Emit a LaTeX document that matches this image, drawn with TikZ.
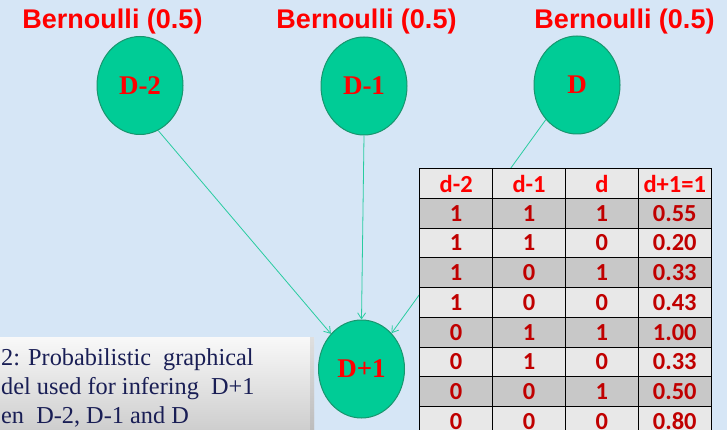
\documentclass[tikz,border=0pt]{standalone}
\usepackage{fontspec}
\setmainfont{Liberation Serif}
\newfontfamily\arialf{Liberation Sans}
\newfontfamily\calf{Carlito}
\usetikzlibrary{shapes.geometric,arrows.meta}
\definecolor{bgblue}{RGB}{214,230,246}
\definecolor{nodegreen}{RGB}{0,204,150}
\definecolor{nodeedge}{RGB}{24,150,110}
\definecolor{arrowteal}{RGB}{40,204,160}
\definecolor{hdrred}{RGB}{255,0,0}
\definecolor{cellred}{RGB}{192,0,0}
\definecolor{rowdark}{RGB}{200,200,200}
\definecolor{rowlight}{RGB}{232,232,232}
\definecolor{capnavy}{RGB}{25,30,85}
\begin{document}
\begin{tikzpicture}[x=1pt,y=-1pt,
  var/.style={ellipse, draw=nodeedge, line width=1pt, fill=nodegreen,
    minimum width=86pt, minimum height=98pt, inner sep=0pt, text=red,
    font=\bfseries\fontsize{27}{27}\selectfont},
  prior/.style={text=red, anchor=base, inner sep=0pt,
    font=\arialf\bfseries\fontsize{27}{27}\selectfont},
  link/.style={draw=arrowteal, line width=0.8pt,
    -{Straight Barb[length=6pt,width=8pt]}},
  cell/.style={draw=black, line width=0.9pt, minimum width=72.85pt,
    minimum height=29.7pt, inner sep=0pt, anchor=north west,
    font=\calf\bfseries\fontsize{24.5}{24.5}\selectfont},
  hcell/.style={cell, fill=rowlight, text=hdrred},
  dcell/.style={cell, fill=rowdark, text=cellred},
  lcell/.style={cell, fill=rowlight, text=cellred},
  captext/.style={anchor=base west, inner sep=0pt, text=capnavy,
    font=\fontsize{24.3}{24.3}\selectfont}
]
\useasboundingbox (0,0) rectangle (727,430);
\clip (0,0) rectangle (727,430);
\fill[bgblue] (0,0) rectangle (727,430);

% priors
\node[prior] (p2) at (112.5,29) {Bernoulli (0.5)};
\node[prior] (p1) at (366.5,29) {Bernoulli (0.5)};
\node[prior] (p0) at (624.5,29) {Bernoulli (0.5)};

% variables
\node[var] (d2) at (140,85.5) {D-2};
\node[var] (d1) at (364,86) {D-1};
\node[var] (d0) at (577,85) {D};
\node[var] (dn) at (361.5,369) {D+1};

% links
\draw[link] (d2.-68.7) -- (dn.131.6);
\draw[link] (d1.-90) -- (dn.90);
\draw[link] (d0.228.5) -- (dn.50);

% table
\foreach \c/\t [count=\i from 0] in {a/d-2,b/d-1,c/d,d/d+1=1}
  \node[hcell] (h\c) at (419.3+72.85*\i,168.3) {\t};
\foreach \r/\va/\vb/\vc/\vd [count=\j from 1] in
  {1/1/1/1/0.55, 2/1/1/0/0.20, 3/1/0/1/0.33, 4/1/0/0/0.43,
   5/0/1/1/1.00, 6/0/1/0/0.33, 7/0/0/1/0.50, 8/0/0/0/0.80}{
  \pgfmathsetmacro{\yy}{168.3+29.7*\j}
  \ifodd\j
    \tikzset{rowcell/.style={dcell}}
  \else
    \tikzset{rowcell/.style={lcell}}
  \fi
  \node[rowcell] (r\r a) at (419.3,\yy) {\va};
  \node[rowcell] (r\r b) at (492.15,\yy) {\vb};
  \node[rowcell] (r\r c) at (565.0,\yy) {\vc};
  \node[rowcell] (r\r d) at (637.85,\yy) {\vd};
}

% caption box
\shade[top color=gray!5, bottom color=gray!42] (-2,337) rectangle (314,440);
\shade[top color=gray!25, bottom color=gray!55] (310,337) rectangle (314,440);
\node[captext] (cap1) at (1,365.7) {2: Probabilistic\ \ graphical};
\node[captext] (cap2) at (1,394.5) {del used for infering\ \ D+1};
\node[captext] (cap3) at (1,423) {en\ \ D-2, D-1 and D};
\end{tikzpicture}
\end{document}
